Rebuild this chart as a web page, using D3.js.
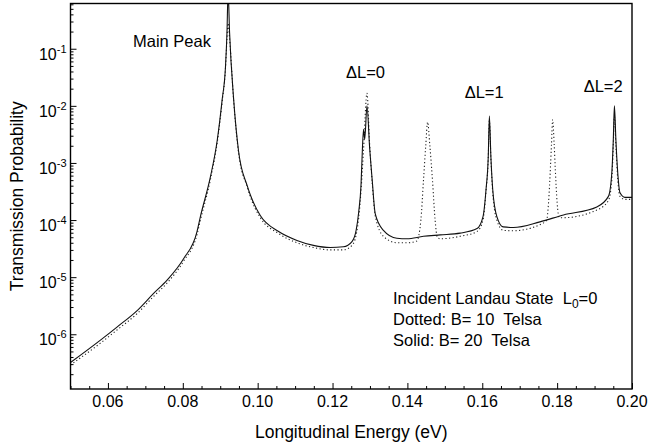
<!DOCTYPE html>
<html>
<head>
<meta charset="utf-8">
<script src="https://cdn.jsdelivr.net/npm/d3@7"></script>
<style>
  body { margin: 0; background: #fff; }
  svg { display: block; font-family: "Liberation Sans", Arial, sans-serif; }
  text { white-space: pre; }
</style>
</head>
<body>
<div id="chart"></div>
<script>
// solid curve, B = 20 Tesla
const energySolid = [0.0500, 0.0580, 0.0625, 0.0678, 0.0722, 0.0758, 0.0802, 0.0838, 0.0847, 0.0874,
    0.0892, 0.0905, 0.0914, 0.0918, 0.0921, 0.0925, 0.0936, 0.0949, 0.0972, 0.0980,
    0.1007, 0.1056, 0.1105, 0.1149, 0.1194, 0.1229, 0.1252, 0.1263, 0.1270, 0.1276,
    0.1280, 0.1283, 0.1286, 0.1292, 0.1299, 0.1306, 0.1314, 0.1336, 0.1372, 0.1399,
    0.1443, 0.1488, 0.1541, 0.1586, 0.1602, 0.1610, 0.1616, 0.1619, 0.1623, 0.1628,
    0.1639, 0.1656, 0.1683, 0.1754, 0.1817, 0.1906, 0.1937, 0.1946, 0.1950, 0.1953,
    0.1957, 0.1962, 0.1968, 0.1981, 0.2000];
const probSolid = [3.2e-7, 7.9e-7, 1.35e-6, 2.6e-6, 5.2e-6, 8.9e-6, 2.1e-5, 6.3e-5, 1.15e-4, 5.8e-4,
    2.5e-3, 1.26e-2, 4.8e-2, 0.19, 1.0, 0.19, 1.26e-2, 1.6e-3, 4.0e-4, 2.8e-4,
    1.2e-4, 6.3e-5, 4.4e-5, 3.6e-5, 3.3e-5, 3.4e-5, 4.2e-5, 6.6e-5, 1.4e-4, 4.0e-4,
    1.9e-3, 3.9e-3, 2.6e-3, 1.0e-2, 1.9e-3, 5.0e-4, 1.3e-4, 6.6e-5, 4.8e-5, 4.7e-5,
    5.2e-5, 5.5e-5, 5.9e-5, 7.1e-5, 1.15e-4, 3.4e-4, 1.3e-3, 6.6e-3, 1.3e-3, 3.4e-4,
    1.15e-4, 7.6e-5, 7.4e-5, 9.3e-5, 1.23e-4, 1.7e-4, 2.6e-4, 6.6e-4, 2.5e-3, 1.0e-2,
    2.5e-3, 6.6e-4, 3.0e-4, 2.5e-4, 2.5e-4];

// dotted curve, B = 10 Tesla
const energyDotted = [0.0500, 0.0580, 0.0625, 0.0678, 0.0722, 0.0758, 0.0802, 0.0838, 0.0847, 0.0874,
    0.0892, 0.0905, 0.0914, 0.0918, 0.0921, 0.0925, 0.0936, 0.0949, 0.0972, 0.0980,
    0.1007, 0.1056, 0.1105, 0.1149, 0.1194, 0.1229, 0.1252, 0.1263, 0.1270, 0.1276,
    0.1283, 0.1292, 0.1299, 0.1306, 0.1314, 0.1336, 0.1372, 0.1399, 0.1425, 0.1436,
    0.1443, 0.1449, 0.1454, 0.1460, 0.1467, 0.1474, 0.1480, 0.1488, 0.1541, 0.1586,
    0.1602, 0.1610, 0.1616, 0.1619, 0.1623, 0.1628, 0.1639, 0.1656, 0.1683, 0.1754,
    0.1772, 0.1777, 0.1782, 0.1785, 0.1788, 0.1792, 0.1795, 0.1800, 0.1806, 0.1817,
    0.1906, 0.1937, 0.1946, 0.1950, 0.1953, 0.1957, 0.1962, 0.1968, 0.1981, 0.2000];
const probDotted = [2.9e-7, 7.0e-7, 1.2e-6, 2.3e-6, 4.6e-6, 7.9e-6, 1.9e-5, 5.6e-5, 1.0e-4, 5.2e-4,
    2.3e-3, 1.15e-2, 4.5e-2, 0.15, 0.28, 0.15, 1.2e-2, 1.5e-3, 3.8e-4, 2.6e-4,
    1.1e-4, 5.8e-5, 4.0e-5, 3.3e-5, 3.0e-5, 3.0e-5, 3.6e-5, 5.5e-5, 1.1e-4, 3.2e-4,
    1.8e-3, 1.66e-2, 2.2e-3, 4.5e-4, 1.2e-4, 5.2e-5, 4.0e-5, 4.0e-5, 4.3e-5, 1.0e-4,
    5.0e-4, 2.0e-3, 5.2e-3, 2.0e-3, 5.0e-4, 1.0e-4, 5.0e-5, 4.7e-5, 5.2e-5, 6.3e-5,
    1.0e-4, 3.2e-4, 1.2e-3, 5.5e-3, 1.2e-3, 3.0e-4, 1.0e-4, 6.6e-5, 6.5e-5, 8.3e-5,
    1.0e-4, 2.0e-4, 8.0e-4, 2.2e-3, 5.7e-3, 2.2e-3, 8.0e-4, 2.0e-4, 1.1e-4, 1.1e-4,
    1.5e-4, 2.2e-4, 5.0e-4, 2.0e-3, 6.5e-3, 2.0e-3, 5.0e-4, 2.6e-4, 2.3e-4, 2.3e-4];

// ticks
const xTicks = [0.06, 0.08, 0.10, 0.12, 0.14, 0.16, 0.18, 0.20];
const xMinorTicks = [0.05, 0.055, 0.065, 0.07, 0.075, 0.085, 0.09, 0.095, 0.105, 0.11, 0.115,
    0.125, 0.13, 0.135, 0.145, 0.15, 0.155, 0.165, 0.17, 0.175, 0.185, 0.19, 0.195];
const yTicks = [1e-6, 1e-5, 1e-4, 1e-3, 1e-2, 1e-1];
const yExponents = ["-6", "-5", "-4", "-3", "-2", "-1"];

// peak labels
const peakLabels = [
    { text: "Main Peak", e: 0.0667, p: 0.107, anchor: "start" },
    { text: "\u0394L=0", e: 0.1288, p: 0.031, anchor: "middle" },
    { text: "\u0394L=1", e: 0.1605, p: 0.0135, anchor: "middle" },
    { text: "\u0394L=2", e: 0.1923, p: 0.0175, anchor: "middle" }
];

const width = 649, height = 445;
const margin = { top: 3.5, right: 17, bottom: 56, left: 70.5 };

const x = d3.scaleLinear()
            .domain([0.05, 0.20])
            .range([margin.left, width - margin.right]);

const y = d3.scaleLog()
            .domain([1.1e-7, 0.62])
            .range([height - margin.bottom, margin.top]);

const svg = d3.select("#chart").append("svg")
              .attr("width", width)
              .attr("height", height);

// clip for the curves
svg.append("clipPath").attr("id", "plot-clip")
   .append("rect")
   .attr("x", margin.left).attr("y", margin.top)
   .attr("width", x.range()[1] - margin.left)
   .attr("height", y.range()[0] - margin.top);

const line = d3.line()
               .x(d => x(d[0]))
               .y(d => y(d[1]))
               .curve(d3.curveMonotoneX);

const solidData = energySolid.map((e, i) => [e, probSolid[i]]);
const dottedData = energyDotted.map((e, i) => [e, probDotted[i]]);

const curves = svg.append("g").attr("clip-path", "url(#plot-clip)");

curves.append("path")
      .datum(dottedData)
      .attr("fill", "none")
      .attr("stroke", "#222")
      .attr("stroke-width", 1.1)
      .attr("stroke-dasharray", "1.2,2.4")
      .attr("d", line);

curves.append("path")
      .datum(solidData)
      .attr("fill", "none")
      .attr("stroke", "#111")
      .attr("stroke-width", 1.1)
      .attr("d", line);

// y minor ticks (2..9 per decade)
const yMinorTicks = [];
for (let n = -7; n <= -1; n++) {
    for (let k = 2; k <= 9; k++) {
        const v = k * Math.pow(10, n);
        if (v >= 1.1e-7 && v <= 0.62) yMinorTicks.push(v);
    }
}

svg.append("g")
   .attr("transform", `translate(${margin.left},0)`)
   .call(d3.axisLeft(y).tickValues(yMinorTicks).tickSize(-3).tickFormat(""))
   .call(g => g.select(".domain").remove());

svg.append("g")
   .attr("transform", `translate(${margin.left},0)`)
   .call(d3.axisLeft(y).tickValues(yTicks).tickSize(-6).tickFormat(""))
   .call(g => g.select(".domain").remove());

// x ticks
const bottom = y.range()[0];
svg.append("g")
   .attr("transform", `translate(0,${bottom})`)
   .call(d3.axisBottom(x).tickValues(xMinorTicks).tickSize(-3).tickFormat(""))
   .call(g => g.select(".domain").remove());

svg.append("g")
   .attr("transform", `translate(0,${bottom})`)
   .call(d3.axisBottom(x).tickValues(xTicks).tickSize(-6).tickFormat(""))
   .call(g => g.select(".domain").remove());

// frame
svg.append("rect")
   .attr("x", margin.left).attr("y", margin.top)
   .attr("width", x.range()[1] - margin.left)
   .attr("height", bottom - margin.top)
   .attr("fill", "none")
   .attr("stroke", "#000")
   .attr("stroke-width", 1.4);

// x tick labels
svg.append("g")
   .selectAll("text")
   .data(xTicks)
   .join("text")
   .attr("x", d => x(d))
   .attr("y", bottom + 18)
   .attr("text-anchor", "middle")
   .attr("font-size", 16)
   .text(d => d.toFixed(2));

// y tick labels with superscript exponent
const yLabels = svg.append("g")
   .selectAll("text")
   .data(yTicks)
   .join("text")
   .attr("x", margin.left - 4)
   .attr("y", d => y(d) + 11)
   .attr("text-anchor", "end")
   .attr("font-size", 16);

yLabels.append("tspan").text("10");
yLabels.append("tspan")
       .attr("dy", -7)
       .attr("font-size", 11)
       .text((d, i) => yExponents[i]);

// axis titles
svg.append("text")
   .attr("x", (margin.left + x.range()[1]) / 2)
   .attr("y", 438)
   .attr("text-anchor", "middle")
   .attr("font-size", 17.5)
   .text("Longitudinal Energy (eV)");

svg.append("text")
   .attr("transform", `translate(23,${(margin.top + bottom) / 2}) rotate(-90)`)
   .attr("text-anchor", "middle")
   .attr("font-size", 17.5)
   .text("Transmission Probability");

// peak labels
svg.append("g")
   .selectAll("text")
   .data(peakLabels)
   .join("text")
   .attr("x", d => x(d.e))
   .attr("y", d => y(d.p))
   .attr("text-anchor", d => d.anchor)
   .attr("font-size", 16.5)
   .text(d => d.text);

// legend text
const legend = svg.append("g").attr("font-size", 16.5);

const l1 = legend.append("text").attr("x", 393).attr("y", 304);
l1.append("tspan").text("Incident Landau State  L");
l1.append("tspan").attr("font-size", 12).attr("dy", 4).text("0");
l1.append("tspan").attr("dy", -4).text("=0");

legend.append("text").attr("x", 393).attr("y", 325).text("Dotted: B= 10  Telsa");
legend.append("text").attr("x", 393).attr("y", 346).text("Solid: B= 20  Telsa");
</script>
</body>
</html>
